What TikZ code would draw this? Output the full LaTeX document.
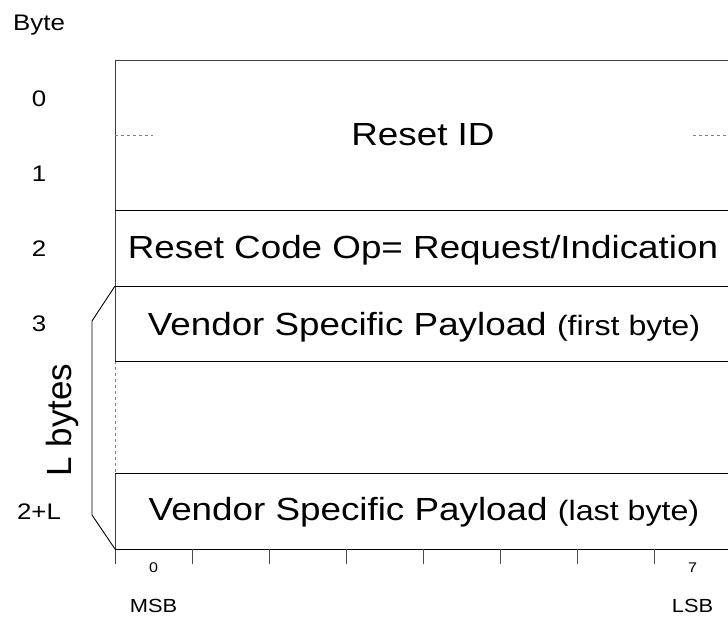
\documentclass[tikz,border=0pt]{standalone}
\usepackage{fontspec}
\setmainfont[FakeStretch=1.15]{Liberation Sans}
\newfontfamily\plainsf{Liberation Sans}
\usepackage{tikz}
\usetikzlibrary{backgrounds}

\newcommand{\bigtxt}{\fontsize{32}{38}\selectfont}
\newcommand{\midtxt}{\fontsize{28}{33}\selectfont}
\newcommand{\bytetxt}{\fontsize{22.5}{27}\selectfont}
\newcommand{\bittxt}{\fontsize{14}{17}\selectfont}
\newcommand{\sbtxt}{\fontsize{19}{23}\selectfont}

\begin{document}
\begin{tikzpicture}[x=1pt,y=-1pt,line width=0.9pt]
\path [use as bounding box,clip] (0,0) rectangle (728,616);
\begin{scope}[every node/.style={inner sep=0pt,anchor=base}]
\draw [black!75] (731,60) -- (115,60) -- (115,361);
\draw [black!75] (115,473) -- (115,564);
\draw [gray,dashed,line width=0.6pt] (115,361) -- (115,473);
\draw (115,210) -- (731,210)
      (115,286) -- (731,286)
      (115,361) -- (731,361)
      (115,473) -- (731,473)
      (115,549) -- (731,549)
      (731,60) -- (731,549);
\draw [gray,dashed,line width=0.6pt] (115,135) -- (153,135)
      (693,135) -- (731,135);
\foreach \k in {1,...,7}
  \draw [black!70] ({115+77*\k},549) -- ({115+77*\k},564);
\draw (115,286) -- (92,321) -- (92,515) -- (115,549);
% fields
\node (resetid) at (423,145.7) {\bigtxt Reset ID};
\node (resetcode) at (423,258.3) {\bigtxt Reset Code Op= Request/Indication};
\node (firstbyte) at (424,335) {\bigtxt Vendor Specific Payload {\midtxt (first byte)}};
\node (lastbyte) at (424,520) {\bigtxt Vendor Specific Payload {\midtxt (last byte)}};
% byte numbers
\node (bytehead) at (39,30) {\bytetxt Byte};
\node (byte0) at (39,106) {\bytetxt 0};
\node (byte1) at (39,181.7) {\bytetxt 1};
\node (byte2) at (39,256.7) {\bytetxt 2};
\node (byte3) at (39,331.7) {\bytetxt 3};
\node (byteL) at (39,519) {\bytetxt 2+L};
\node [rotate=90] (lbytes) at (71.7,420) {\plainsf\fontsize{35}{40}\selectfont L bytes};
% bit numbers
\node (bit0) at (153.5,572.7) {\bittxt 0};
\node (bit7) at (692.5,572.7) {\bittxt 7};
\node (msb) at (153.5,612.7) {\sbtxt MSB};
\node (lsb) at (692.5,612.7) {\sbtxt LSB};
\end{scope}
\end{tikzpicture}
\end{document}
